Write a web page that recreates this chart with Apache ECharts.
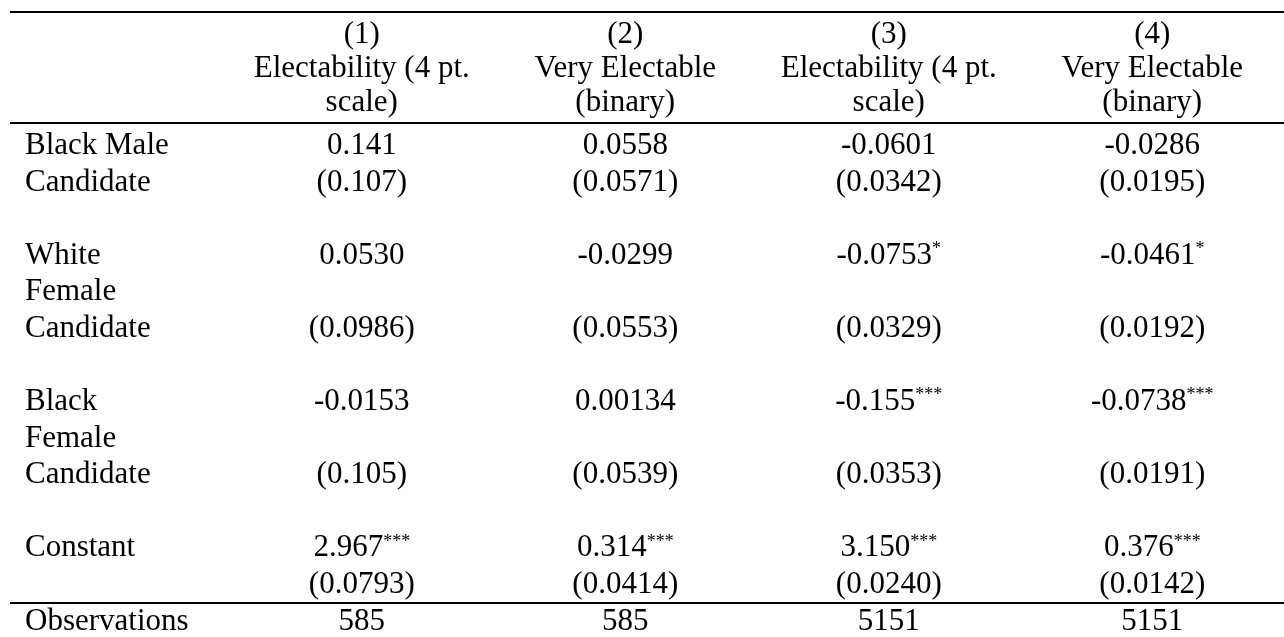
<!DOCTYPE html>
<html>
<head>
<meta charset="utf-8">
<script src="https://cdn.jsdelivr.net/npm/echarts@6/dist/echarts.min.js"></script>
<style>
  html, body { margin: 0; padding: 0; background: #ffffff; }
  #chart { width: 1284px; height: 637px; }
</style>
</head>
<body>
<div id="chart"></div>
<script>
// ---- Table content ----
const modelNumbers = ['(1)', '(2)', '(3)', '(4)'];
const depVarLines = [
  ['Electability (4 pt.', 'scale)'],
  ['Very Electable', '(binary)'],
  ['Electability (4 pt.', 'scale)'],
  ['Very Electable', '(binary)']
];
const variableLabelLines = [
  ['Black Male', 'Candidate'],
  ['White', 'Female', 'Candidate'],
  ['Black', 'Female', 'Candidate'],
  ['Constant', '']
];
const coefficients = [
  ['0.141', '0.0530', '-0.0153', '2.967'],
  ['0.0558', '-0.0299', '0.00134', '0.314'],
  ['-0.0601', '-0.0753', '-0.155', '3.150'],
  ['-0.0286', '-0.0461', '-0.0738', '0.376']
];
const stars = [
  ['', '', '', '***'],
  ['', '', '', '***'],
  ['', '*', '***', '***'],
  ['', '*', '***', '***']
];
const standardErrors = [
  ['(0.107)', '(0.0986)', '(0.105)', '(0.0793)'],
  ['(0.0571)', '(0.0553)', '(0.0539)', '(0.0414)'],
  ['(0.0342)', '(0.0329)', '(0.0353)', '(0.0240)'],
  ['(0.0195)', '(0.0192)', '(0.0191)', '(0.0142)']
];
const observationsLabel = 'Observations';
const observations = ['585', '585', '5151', '5151'];

// ---- Build the text lines of the table body ----
const bodyLines = [];
const coefLine = [];
const seLine = [];
variableLabelLines.forEach(function (lines, i) {
  if (i > 0) bodyLines.push(' ');
  coefLine.push(bodyLines.length);
  lines.forEach(function (l) { bodyLines.push(l); });
  seLine.push(bodyLines.length - 1);
});
const obsLine = bodyLines.length;
bodyLines.push(observationsLabel);

const headerLabels = modelNumbers.map(function (n, j) {
  return [n].concat(depVarLines[j]).join('\n');
});

const FONT = '"Liberation Serif", "Times New Roman", serif';
const FS = 31;

const cellData = [];
modelNumbers.forEach(function (_, j) {
  variableLabelLines.forEach(function (_, i) {
    cellData.push({ value: [j, coefLine[i]], txt: coefficients[j][i], st: stars[j][i] });
    cellData.push({ value: [j, seLine[i]], txt: standardErrors[j][i], st: '' });
  });
  cellData.push({ value: [j, obsLine], txt: observations[j], st: '' });
});

const chart = echarts.init(document.getElementById('chart'), null, { renderer: 'canvas' });
const option = {
  animation: false,
  backgroundColor: '#ffffff',
  grid: { left: 230, right: 0, top: 146, bottom: 12 },
  xAxis: {
    type: 'category',
    position: 'top',
    data: headerLabels,
    boundaryGap: true,
    axisLine: { show: false },
    axisTick: { show: false },
    splitLine: { show: false },
    axisLabel: {
      interval: 0, margin: 26, color: '#000', fontFamily: FONT, fontSize: FS, lineHeight: 34
    }
  },
  yAxis: {
    type: 'category',
    inverse: true,
    data: bodyLines,
    boundaryGap: false,
    axisLine: { show: false },
    axisTick: { show: false },
    splitLine: { show: false },
    axisLabel: {
      interval: 0, margin: 205, align: 'left', color: '#000', fontFamily: FONT, fontSize: FS
    }
  },
  series: [{
    type: 'scatter',
    data: cellData,
    symbolSize: 1,
    silent: true,
    itemStyle: { color: 'rgba(255,255,255,0)', opacity: 1 },
    label: {
      show: true,
      position: 'inside',
      align: 'center',
      verticalAlign: 'middle',
      color: '#000',
      opacity: 1,
      textBorderWidth: 0,
      textBorderColor: 'transparent',
      fontFamily: FONT,
      fontSize: FS,
      formatter: function (p) {
        return '{v|' + p.data.txt + '}' + (p.data.st ? '{s|' + p.data.st + '}' : '');
      },
      rich: {
        v: { color: '#000', fontFamily: FONT, fontSize: FS, textBorderWidth: 0 },
        s: { color: '#000', fontFamily: FONT, fontSize: 18, verticalAlign: 'top', textBorderWidth: 0 }
      }
    }
  }],
  graphic: [
    { type: 'line', shape: { x1: 10, y1: 12, x2: 1284, y2: 12 }, style: { stroke: '#000', lineWidth: 2 } },
    { type: 'line', shape: { x1: 10, y1: 123, x2: 1284, y2: 123 }, style: { stroke: '#000', lineWidth: 2 } },
    { type: 'line', shape: { x1: 10, y1: 603, x2: 1284, y2: 603 }, style: { stroke: '#000', lineWidth: 2 } }
  ]
};
chart.setOption(option);
</script>
</body>
</html>
